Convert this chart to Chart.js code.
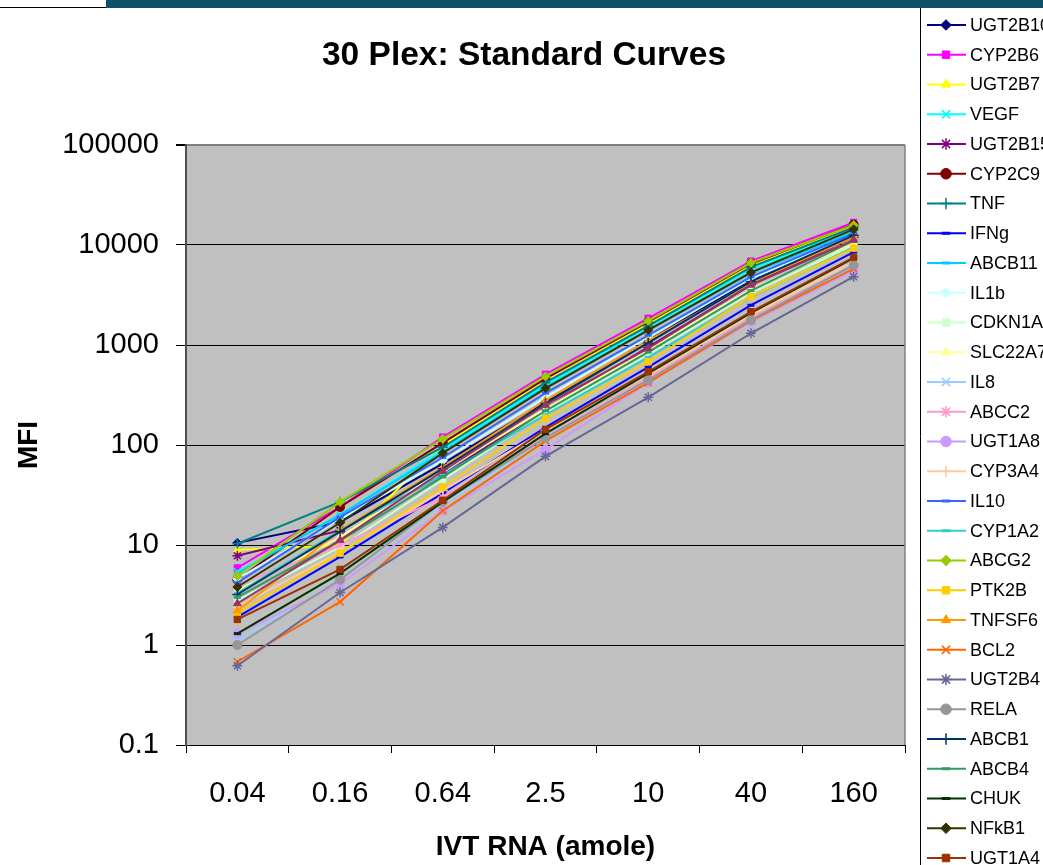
<!DOCTYPE html>
<html>
<head>
<meta charset="utf-8">
<script src="https://cdn.jsdelivr.net/npm/chart.js@4/dist/chart.umd.min.js"></script>
<style>
  body { margin: 0; background: #fff; }
  #wrap { position: relative; width: 1043px; height: 865px; overflow: hidden; }
  #bar-left { position: absolute; left: 0; top: 0; width: 106px; height: 8px; background: #fff; border-bottom: 1px solid #000; box-sizing: border-box; }
  #bar-right { position: absolute; left: 106px; top: 0; width: 937px; height: 8px; background: #10506a; }
</style>
</head>
<body>
<div id="wrap">
  <canvas id="myChart" width="1043" height="865"></canvas>
  <div id="bar-left"></div>
  <div id="bar-right"></div>
</div>
<script>
const ctx = document.getElementById("myChart");

//_ DATA

const doses = ["0.04", "0.16", "0.64", "2.5", "10", "40", "160"];
const yTicks = [0.1, 1, 10, 100, 1000, 10000, 100000];

const genes = [
  "UGT2B10", "CYP2B6", "UGT2B7", "VEGF", "UGT2B15", "CYP2C9", "TNF", "IFNg",
  "ABCB11", "IL1b", "CDKN1A", "SLC22A7", "IL8", "ABCC2", "UGT1A8", "CYP3A4",
  "IL10", "CYP1A2", "ABCG2", "PTK2B", "TNFSF6", "BCL2", "UGT2B4", "RELA",
  "ABCB1", "ABCB4", "CHUK", "NFkB1", "UGT1A4",
  "?", // 30th legend entry is cut off below the picture
];

const UGT2B10 = [10.5, 17, 65, 270, 1100, 4500, 12500];
const CYP2B6 = [5.9, 24, 120, 510, 1850, 6900, 16800];
const UGT2B7 = [8.9, 10, 100, 450, 1650, 6300, 15500];
const VEGF = [5.4, 20, 90, 400, 1500, 5700, 14500];
const UGT2B15 = [7.8, 14, 50, 230, 950, 4000, 12000];
const CYP2C9 = [4.5, 24, 105, 460, 1700, 6500, 16000];
const TNF = [10.3, 27, 95, 420, 1550, 6000, 15000];
const IFNg = [1.9, 7.6, 33, 150, 600, 2500, 8500];
const ABCB11 = [5.2, 20, 85, 380, 1400, 5200, 13500];
const IL1b = [4.6, 18, 70, 300, 1200, 4600, 12500];
const CDKN1A = [2.8, 9.5, 45, 210, 800, 3300, 10000];
const SLC22A7 = [3.5, 12, 55, 230, 900, 3600, 10500];
const IL8 = [1.1, 4.5, 26, 110, 440, 1700, 6000];
const ABCC2 = [4.0, 10, 30, 120, 470, 1850, 6300];
const UGT1A8 = [1.3, 4.1, 22, 90, 420, 1700, 5500];
const CYP3A4 = [2.4, 8.5, 35, 140, 500, 2000, 6800];
const IL10 = [4.2, 19, 75, 330, 1250, 4800, 13000];
const CYP1A2 = [3.3, 14, 50, 200, 750, 3000, 9500];
const ABCG2 = [4.9, 27, 115, 485, 1740, 6640, 15800];
const PTK2B = [2.1, 8.3, 38, 185, 680, 3040, 9300];
const TNFSF6 = [2.2, 14, 60, 280, 1100, 4200, 12000];
const BCL2 = [0.68, 2.7, 22, 110, 420, 1750, 5800];
const UGT2B4 = [0.62, 3.35, 15, 77, 300, 1310, 4820];
const RELA = [1.0, 4.5, 27, 118, 447, 1780, 6300];
const ABCB1 = [3.2, 13.6, 58, 260, 1050, 4300, 12500];
const ABCB4 = [3.0, 11, 48, 220, 850, 3500, 11000];
const CHUK = [1.3, 5.2, 27, 130, 520, 2100, 7400];
const NFkB1 = [3.8, 16.7, 83, 369, 1410, 5330, 14350];
const UGT1A4 = [1.8, 5.7, 28, 143, 540, 2150, 7540];
const series30 = [2.6, 11.2, 55, 251, 927, 3980, 11200];

const seriesValues = [
  UGT2B10, CYP2B6, UGT2B7, VEGF, UGT2B15, CYP2C9, TNF, IFNg,
  ABCB11, IL1b, CDKN1A, SLC22A7, IL8, ABCC2, UGT1A8, CYP3A4,
  IL10, CYP1A2, ABCG2, PTK2B, TNFSF6, BCL2, UGT2B4, RELA,
  ABCB1, ABCB4, CHUK, NFkB1, UGT1A4, series30,
];

//_ STYLES

const colors = [
  "#000080", "#FF00FF", "#FFFF00", "#00FFFF", "#800080", "#800000", "#008080", "#0000FF",
  "#00CCFF", "#CCFFFF", "#CCFFCC", "#FFFF99", "#99CCFF", "#FF99CC", "#CC99FF", "#FFCC99",
  "#3366FF", "#33CCCC", "#99CC00", "#FFCC00", "#FF9900", "#FF6600", "#666699", "#969696",
  "#003366", "#339966", "#003300", "#333300", "#993300", "#993366",
];
const markerCycle = ["rectRot", "rect", "triangle", "crossRot", "star", "circle", "cross", "line", "line"];

const markerStyle = (i) => {
  const style = markerCycle[i % markerCycle.length];
  if (style === "line") return { style, radius: 3.5, width: 3 };
  if (["crossRot", "star", "cross"].includes(style)) return { style, radius: 5, width: 1.5 };
  return { style, radius: 4.5, width: 1 };
};

const datasets = genes.map((g, i) => {
  const m = markerStyle(i);
  return {
    label: g,
    data: seriesValues[i],
    borderColor: colors[i],
    backgroundColor: colors[i],
    borderWidth: 2,
    pointStyle: m.style,
    pointRadius: m.radius,
    pointBorderWidth: m.width,
    pointBackgroundColor: colors[i],
    pointBorderColor: colors[i],
    order: genes.length - i,
  };
});

const FONT = "'Liberation Sans', Arial, sans-serif";

const decor = {
  id: "decor",
  beforeDraw(chart) {
    const { ctx, chartArea: a } = chart;
    ctx.save();
    ctx.fillStyle = "#C0C0C0";
    ctx.fillRect(a.left, a.top, a.right - a.left, a.bottom - a.top);
    ctx.restore();
  },
  afterDraw(chart) {
    const { ctx, chartArea: a } = chart;
    ctx.save();
    // plot border on the right
    ctx.strokeStyle = "#808080";
    ctx.lineWidth = 1.5;
    ctx.beginPath();
    ctx.moveTo(a.right, a.top);
    ctx.lineTo(a.right, a.bottom);
    ctx.stroke();

    // title
    ctx.fillStyle = "#000";
    ctx.font = "bold 33.5px " + FONT;
    ctx.textAlign = "center";
    ctx.textBaseline = "middle";
    ctx.fillText("30 Plex: Standard Curves", 524, 56);

    // legend
    const lx = 920;
    ctx.strokeStyle = "#000";
    ctx.lineWidth = 1;
    ctx.beginPath();
    ctx.moveTo(lx + 0.5, 8);
    ctx.lineTo(lx + 0.5, 865);
    ctx.stroke();
    ctx.font = "18px " + FONT;
    ctx.textAlign = "left";
    chart.data.datasets.forEach((ds, i) => {
      const y = 25 + i * 29.75;
      ctx.strokeStyle = ds.borderColor;
      ctx.lineWidth = 2;
      ctx.beginPath();
      ctx.moveTo(927, y);
      ctx.lineTo(966, y);
      ctx.stroke();
      if (Chart.helpers && Chart.helpers.drawPoint) {
        ctx.fillStyle = ds.pointBackgroundColor;
        ctx.strokeStyle = ds.pointBorderColor;
        ctx.lineWidth = ds.pointBorderWidth;
        Chart.helpers.drawPoint(ctx, {
          pointStyle: ds.pointStyle,
          radius: ds.pointRadius + 0.8,
          borderWidth: ds.pointBorderWidth,
          rotation: 0,
        }, 946, y);
      }
      ctx.fillStyle = "#000";
      ctx.fillText(ds.label, 970, y + 1);
    });
    ctx.restore();
  },
};

const myChart = new Chart(ctx, {
  type: "line",
  data: { labels: doses, datasets },
  options: {
    responsive: false,
    animation: false,
    layout: { padding: { top: 145, right: 138, left: 0, bottom: 0 } },
    plugins: {
      legend: { display: false },
      title: { display: false },
      tooltip: { enabled: false },
    },
    scales: {
      x: {
        type: "category",
        offset: true,
        grid: {
          offset: true,
          drawOnChartArea: false,
          drawTicks: true,
          tickLength: 8,
          tickColor: "#000",
        },
        border: { color: "#000", width: 1 },
        ticks: {
          color: "#000",
          font: { family: FONT, size: 29 },
          padding: 24,
          maxRotation: 0,
        },
        title: {
          display: true,
          text: "IVT RNA (amole)",
          color: "#000",
          font: { family: FONT, size: 28, weight: "bold" },
          padding: { top: 0, bottom: 1 },
        },
        afterFit: (s) => { s.height = 120; },
      },
      y: {
        type: "logarithmic",
        min: 0.1,
        max: 100000,
        afterBuildTicks: (s) => { s.ticks = yTicks.map((v) => ({ value: v })); },
        grid: {
          color: (c) => (c.tick && c.tick.value === 100000 ? "#808080" : "#000"),
          lineWidth: (c) => (c.tick && c.tick.value === 100000 ? 2 : 1),
          tickColor: "#000",
          tickLength: 10,
        },
        border: { color: "#505050", width: 2 },
        ticks: {
          color: "#000",
          font: { family: FONT, size: 29 },
          padding: 17,
          callback: (v) => String(v),
        },
        title: {
          display: true,
          text: "MFI",
          color: "#000",
          font: { family: FONT, size: 28, weight: "bold" },
          padding: { top: 12, bottom: 0 },
        },
        afterFit: (s) => { s.width = 186; },
      },
    },
  },
  plugins: [decor],
});
</script>
</body>
</html>
